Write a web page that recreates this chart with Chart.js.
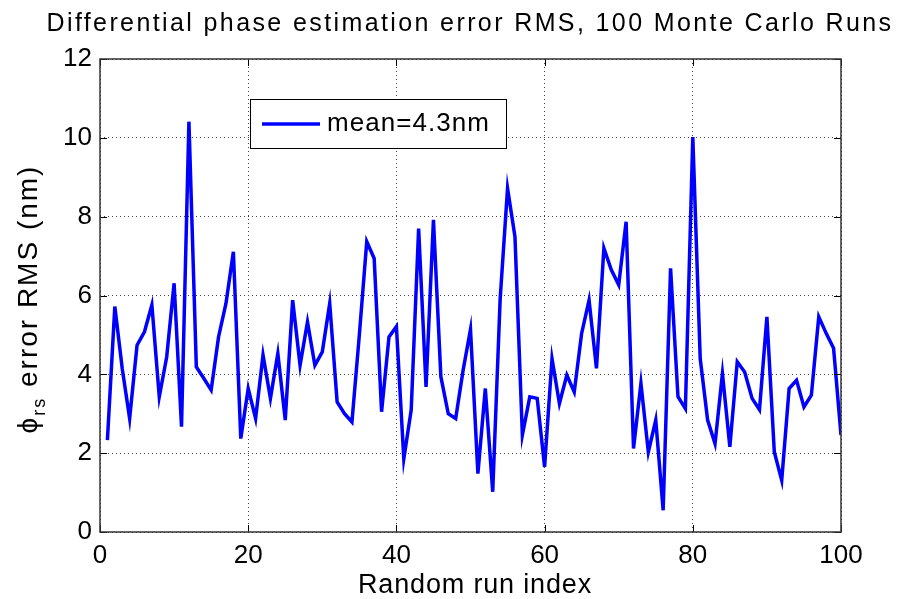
<!DOCTYPE html>
<html>
<head>
<meta charset="utf-8">
<script src="https://cdn.jsdelivr.net/npm/chart.js@4.4.0/dist/chart.umd.min.js"></script>
<style>
  html, body { margin: 0; padding: 0; background: #fff; }
</style>
</head>
<body>
<canvas id="myChart" width="897" height="599"></canvas>
<script>
// DATA
const runIndex = [1, 2, 3, 4, 5, 6, 7, 8, 9, 10, 11, 12, 13, 14, 15, 16, 17, 18, 19, 20,
  21, 22, 23, 24, 25, 26, 27, 28, 29, 30, 31, 32, 33, 34, 35, 36, 37, 38, 39, 40,
  41, 42, 43, 44, 45, 46, 47, 48, 49, 50, 51, 52, 53, 54, 55, 56, 57, 58, 59, 60,
  61, 62, 63, 64, 65, 66, 67, 68, 69, 70, 71, 72, 73, 74, 75, 76, 77, 78, 79, 80,
  81, 82, 83, 84, 85, 86, 87, 88, 89, 90, 91, 92, 93, 94, 95, 96, 97, 98, 99, 100]
const rmsError = [2.33, 5.72, 4.15, 2.88, 4.74, 5.08, 5.76, 3.43, 4.44, 6.31,
  2.67, 10.41, 4.19, 3.9, 3.6, 4.95, 5.8, 7.11, 2.37, 3.64,
  2.88, 4.49, 3.39, 4.53, 2.84, 5.88, 4.23, 5.33, 4.23, 4.57,
  5.8, 3.3, 3.0, 2.79, 5.0, 7.37, 6.94, 3.05, 4.95, 5.21,
  1.86, 3.1, 7.7, 3.68, 7.92, 3.94, 3.0, 2.88, 4.1, 5.14,
  1.48, 3.64, 1.02, 5.9, 8.72, 7.49, 2.46, 3.43, 3.39, 1.65,
  4.4, 3.26, 3.98, 3.55, 5.04, 5.88, 4.15, 7.2, 6.65, 6.27,
  7.87, 2.12, 3.77, 2.03, 2.84, 0.55, 6.69, 3.43, 3.13, 10.02,
  4.4, 2.84, 2.24, 4.02, 2.16, 4.32, 4.06, 3.39, 3.1, 5.46,
  2.03, 1.31, 3.64, 3.85, 3.17, 3.47, 5.46, 5.04, 4.66, 2.46]
const xTicks = [0, 20, 40, 60, 80, 100]
const yTicks = [0, 2, 4, 6, 8, 10, 12]
const seriesLabel = "mean=4.3nm"
const chartTitle = "Differential phase estimation error RMS, 100 Monte Carlo Runs"
const xTitle = "Random run index"

const FONT = "'Liberation Sans', Arial, Helvetica, sans-serif"

// testo con spaziatura allargata per avere la larghezza voluta
function spacedText(ctx, text, x, y, width, align) {
  ctx.letterSpacing = "0px"
  const w0 = ctx.measureText(text).width
  const sp = Math.max(0, (width - w0) / text.length)
  ctx.letterSpacing = sp + "px"
  const w = ctx.measureText(text).width
  let x0 = x
  if (align === "center") x0 = x - w / 2
  ctx.textAlign = "left"
  ctx.fillText(text, x0, y)
  ctx.letterSpacing = "0px"
  return w
}

// riquadro, tacche interne, titolo, etichetta y e legenda
const decorPlugin = {
  id: "decor",
  afterDraw(chart) {
    const ctx = chart.ctx
    const a = chart.chartArea
    const xs = chart.scales.x
    const ys = chart.scales.y
    ctx.save()

    // tacche verso l'interno
    ctx.strokeStyle = "#000"
    ctx.lineWidth = 1
    ctx.beginPath()
    xTicks.forEach((v) => {
      const px = Math.round(xs.getPixelForValue(v)) + 0.5
      ctx.moveTo(px, a.bottom); ctx.lineTo(px, a.bottom - 7)
      ctx.moveTo(px, a.top); ctx.lineTo(px, a.top + 7)
    })
    yTicks.forEach((v) => {
      const py = Math.round(ys.getPixelForValue(v)) + 0.5
      ctx.moveTo(a.left, py); ctx.lineTo(a.left + 7, py)
      ctx.moveTo(a.right, py); ctx.lineTo(a.right - 7, py)
    })
    ctx.stroke()

    // riquadro
    ctx.strokeStyle = "#333"
    ctx.lineWidth = 1.5
    ctx.strokeRect(a.left, a.top, a.right - a.left, a.bottom - a.top)

    // titolo
    ctx.fillStyle = "#000"
    ctx.textBaseline = "alphabetic"
    ctx.font = "25px " + FONT
    spacedText(ctx, chartTitle, 470, 31, 847, "center")

    // etichetta asse x
    ctx.font = "27px " + FONT
    spacedText(ctx, xTitle, 475, 593, 234, "center")

    // etichetta asse y con pedice
    ctx.translate(37, 299)
    ctx.rotate(-Math.PI / 2)
    ctx.textAlign = "left"
    const big = "28px " + FONT
    const small = "18px " + FONT
    const rest = " error RMS (nm)"
    ctx.font = big
    ctx.letterSpacing = "2px"
    const wPhi = ctx.measureText("\u03d5").width
    const wRest = ctx.measureText(rest).width
    ctx.font = small
    const wSub = ctx.measureText("rs").width
    const x0 = -(wPhi + wSub + wRest) / 2
    ctx.font = big
    ctx.fillText("\u03d5", x0, 0)
    ctx.font = small
    ctx.fillText("rs", x0 + wPhi, 8)
    ctx.font = big
    ctx.fillText(rest, x0 + wPhi + wSub, 0)
    ctx.letterSpacing = "0px"
    ctx.restore()

    // legenda
    ctx.save()
    ctx.fillStyle = "#fff"
    ctx.fillRect(250, 99, 256, 49)
    ctx.strokeStyle = "#000"
    ctx.lineWidth = 1
    ctx.strokeRect(250.5, 99.5, 256, 49)
    ctx.strokeStyle = "#0000ff"
    ctx.lineWidth = 3.5
    ctx.beginPath()
    ctx.moveTo(262, 124); ctx.lineTo(320, 124)
    ctx.stroke()
    ctx.fillStyle = "#000"
    ctx.font = "26px " + FONT
    ctx.textBaseline = "middle"
    spacedText(ctx, seriesLabel, 327, 124, 163, "left")
    ctx.restore()
  },
}

const ctx = document.getElementById("myChart")

new Chart(ctx, {
  type: "line",
  data: {
    datasets: [
      {
        label: seriesLabel,
        data: runIndex.map((x, i) => ({ x: x, y: rmsError[i] })),
        borderColor: "#0000ff",
        backgroundColor: "#0000ff",
        borderWidth: 3.5,
        pointRadius: 0,
        tension: 0,
        fill: false,
      },
    ],
  },
  options: {
    responsive: false,
    animation: false,
    devicePixelRatio: 1,
    layout: { padding: { left: 0, right: 56, top: 59, bottom: 0 } },
    plugins: {
      legend: { display: false },
      tooltip: { enabled: false },
      title: { display: false },
    },
    scales: {
      x: {
        type: "linear",
        min: 0,
        max: 100,
        afterBuildTicks: (s) => { s.ticks = xTicks.map((v) => ({ value: v })) },
        afterFit: (s) => { s.height = 67 },
        ticks: { color: "#000", font: { family: FONT, size: 26 }, padding: 8, maxRotation: 0 },
        grid: { color: "#444", lineWidth: 1, drawTicks: false },
        border: { display: false, dash: [1, 3] },
      },
      y: {
        min: 0,
        max: 12,
        afterBuildTicks: (s) => { s.ticks = yTicks.map((v) => ({ value: v })) },
        afterFit: (s) => { s.width = 100 },
        ticks: { color: "#000", font: { family: FONT, size: 26 }, padding: 8 },
        grid: { color: "#444", lineWidth: 1, drawTicks: false },
        border: { display: false, dash: [1, 3] },
      },
    },
  },
  plugins: [decorPlugin],
})
</script>
</body>
</html>
